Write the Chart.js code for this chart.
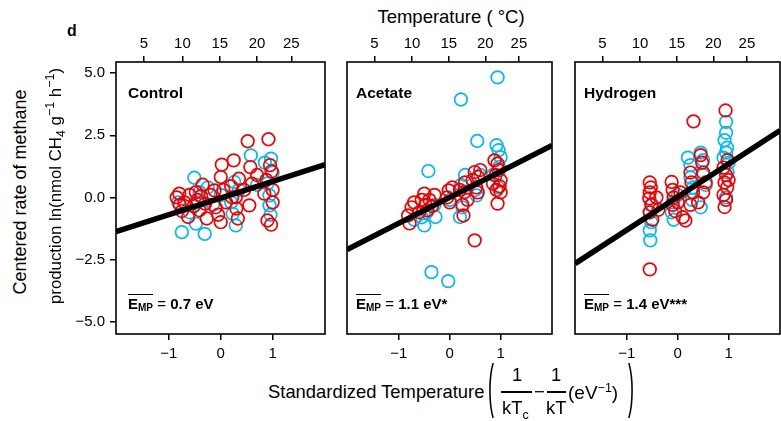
<!DOCTYPE html>
<html><head><meta charset="utf-8">
<script src="https://cdn.jsdelivr.net/npm/chart.js@4"></script>
<style>
body{margin:0;width:781px;height:421px;overflow:hidden;background:#fff;position:relative;font-family:"Liberation Sans",Arial,sans-serif;color:#000}
canvas{position:absolute}
.t{position:absolute;white-space:nowrap;line-height:1}
.b{font-weight:bold}
.rot{transform:translate(-50%,-50%) rotate(-90deg)}
.ov{border-top:1.5px solid #000;font-weight:bold}
.sb{font-size:10px;position:relative;top:2px}
sub,sup{font-size:12.5px;line-height:0}
.bar{position:absolute;height:1.5px;background:#000}
</style></head><body>
<canvas id="c1" width="277" height="334" style="left:56px;top:30px"></canvas>
<canvas id="c2" width="221" height="334" style="left:339px;top:30px"></canvas>
<canvas id="c3" width="221" height="334" style="left:567px;top:30px"></canvas>

<div class="t b" style="left:67px;top:23px;font-size:16px">d</div>
<div class="t" style="left:451px;top:8px;font-size:18.5px;transform:translateX(-50%)">Temperature ( °C)</div>
<div class="t rot" style="left:20px;top:192px;font-size:18px">Centered rate of methane</div>
<div class="t rot" style="left:56px;top:186px;font-size:16.8px">production ln(nmol CH<sub>4</sub> g<sup>−1</sup> h<sup>−1</sup>)</div>

<div class="t b" style="left:128px;top:85px;font-size:15.5px">Control</div>
<div class="t b" style="left:356px;top:85px;font-size:15.5px">Acetate</div>
<div class="t b" style="left:584px;top:85px;font-size:15.5px">Hydrogen</div>

<div class="t" style="left:128px;top:296px;font-size:15px"><span class="ov">E<span class="sb">MP</span></span> = <b>0.7 eV</b></div>
<div class="t" style="left:356px;top:296px;font-size:15px"><span class="ov">E<span class="sb">MP</span></span> = <b>1.1 eV*</b></div>
<div class="t" style="left:584px;top:296px;font-size:15px"><span class="ov">E<span class="sb">MP</span></span> = <b>1.4 eV***</b></div>

<div class="t" style="left:268px;top:383px;font-size:18.4px">Standardized Temperature</div>
<div class="t" style="left:488px;top:356px;font-size:18px;transform-origin:0 0;transform:scale(1,3.3)">(</div>
<div class="t" style="left:512px;top:366px;font-size:18.4px">1</div>
<div class="bar" style="left:501px;top:391px;width:31px"></div>
<div class="t" style="left:502px;top:399px;font-size:18.4px">kT<sub>c</sub></div>
<div class="t" style="left:534px;top:383px;font-size:18.4px">−</div>
<div class="t" style="left:551px;top:366px;font-size:18.4px">1</div>
<div class="bar" style="left:547px;top:391px;width:19px"></div>
<div class="t" style="left:546px;top:399px;font-size:18.4px">kT</div>
<div class="t" style="left:568px;top:383px;font-size:19px">(eV<sup>−1</sup>)</div>
<div class="t" style="left:628px;top:356px;font-size:18px;transform-origin:0 0;transform:scale(1,3.3)">)</div>

<script>
// ---- data ----
const panelNames = ['Control', 'Acetate', 'Hydrogen'];
const tempTickLabels = ['5', '10', '15', '20', '25'];
const tempTickPos = [-1.48, -0.74, -0.02, 0.70, 1.36];
const stdTicks = [-1, 0, 1];
const yTicks = [-5, -2.5, 0, 2.5, 5];
const slopes = [0.67, 1.04, 1.33];
const intercepts = [-0.03, 0.0, 0.02];

const controlRed = [[-0.85,0.0],[-0.8,0.15],[-0.79,-0.3],[-0.75,-0.55],[-0.7,-0.2],[-0.63,-0.79],[-0.6,0.1],[-0.52,-0.35],[-0.48,0.21],[-0.45,-0.1],[-0.41,-0.52],[-0.38,0.05],[-0.35,0.51],[-0.3,-0.25],[-0.27,-0.85],[-0.2,0.1],[-0.12,0.28],[-0.1,-0.4],[-0.05,-0.7],[0.0,-1.0],[0.0,0.82],[0.02,1.32],[0.05,0.3],[0.1,-0.2],[0.2,0.45],[0.22,0.0],[0.25,1.49],[0.29,0.01],[0.3,-0.45],[0.33,-0.85],[0.35,0.75],[0.45,0.3],[0.52,2.26],[0.55,-0.32],[0.57,1.22],[0.6,0.55],[0.7,0.9],[0.84,0.15],[0.88,0.7],[0.9,-0.93],[0.92,2.34],[0.95,1.3],[0.97,-1.1],[0.98,1.05],[1.0,0.3],[1.0,-0.2]];
const controlCyan = [[-0.82,-0.2],[-0.75,-1.4],[-0.6,-0.6],[-0.51,0.79],[-0.48,-1.06],[-0.45,-0.2],[-0.41,0.21],[-0.31,-1.47],[-0.25,0.4],[-0.15,-0.3],[0.0,0.1],[0.2,-0.2],[0.23,-0.66],[0.26,0.62],[0.29,-1.13],[0.35,0.3],[0.58,1.69],[0.7,0.5],[0.85,1.4],[0.94,0.08],[0.94,-0.32],[0.9,0.56],[0.97,1.56],[1.0,1.0],[0.96,-0.7]];

const acetateRed = [[-0.82,-0.73],[-0.79,-1.05],[-0.75,-0.4],[-0.7,-0.2],[-0.6,-0.6],[-0.55,-0.1],[-0.5,0.15],[-0.48,-0.3],[-0.44,-0.52],[-0.4,-0.1],[-0.35,-0.35],[-0.3,0.1],[-0.05,0.0],[-0.02,0.28],[0.0,-0.2],[0.05,0.4],[0.2,0.3],[0.25,-0.3],[0.27,-0.73],[0.29,0.21],[0.3,0.6],[0.35,-0.1],[0.45,0.7],[0.49,1.02],[0.49,-1.73],[0.52,0.4],[0.56,0.82],[0.6,1.1],[0.55,0.2],[0.85,0.55],[0.88,1.49],[0.9,0.9],[0.92,0.3],[0.94,1.36],[0.94,-0.25],[0.96,1.1],[1.0,0.69],[1.0,0.2],[0.98,0.45]];
const acetateCyan = [[-0.7,-0.9],[-0.55,-0.8],[-0.5,-1.13],[-0.45,-0.6],[-0.42,1.06],[-0.36,-3.01],[-0.3,-0.3],[-0.28,-0.79],[-0.03,-3.37],[0.0,-0.1],[0.2,-0.79],[0.22,3.94],[0.22,0.5],[0.25,-0.4],[0.3,0.9],[0.5,0.3],[0.53,0.08],[0.54,2.27],[0.6,0.9],[0.85,0.9],[0.92,2.1],[0.94,4.83],[0.96,1.9],[0.97,1.22],[1.0,1.62],[0.95,0.4]];

const hydrogenRed = [[-0.55,0.6],[-0.53,0.4],[-0.55,0.2],[-0.56,-0.04],[-0.52,-0.3],[-0.55,-0.6],[-0.5,-0.9],[-0.55,-2.9],[-0.42,0.0],[-0.38,-0.5],[-0.12,0.62],[-0.1,0.3],[-0.08,0.0],[-0.1,-0.3],[-0.05,-0.55],[0.05,0.2],[0.1,-0.8],[0.15,-0.93],[0.0,-0.2],[0.25,1.0],[0.27,0.6],[0.3,0.2],[0.31,3.06],[0.25,-0.3],[0.45,1.7],[0.48,1.4],[0.5,1.0],[0.55,0.6],[0.5,0.2],[0.4,-0.2],[0.94,3.5],[0.9,1.2],[0.95,0.9],[0.92,0.6],[0.97,0.4],[0.9,0.1],[0.95,-0.1],[0.92,-0.39],[1.0,0.7],[0.98,1.5]];
const hydrogenCyan = [[-0.55,-0.6],[-0.52,-1.0],[-0.55,-1.33],[-0.54,-1.73],[-0.5,-0.3],[-0.1,-0.2],[-0.12,-0.6],[-0.08,-0.9],[0.0,0.1],[0.25,1.3],[0.25,0.8],[0.3,0.4],[0.28,-0.1],[0.45,1.8],[0.5,1.5],[0.5,0.9],[0.55,0.5],[0.45,-0.4],[0.2,1.6],[0.95,3.04],[0.95,2.6],[0.92,2.3],[0.97,2.0],[0.95,1.8],[0.9,1.6],[1.0,1.4],[0.98,1.0],[0.95,0.0]];

// ---- drawing ----
const RED = 'rgb(240,0,0)';
const CYAN = 'rgb(0,185,240)';
const X_MIN = -2.02, X_MAX = 2.01, Y_MIN = -5.5, Y_MAX = 5.45;
Chart.defaults.font.family = "'Liberation Sans', Arial, sans-serif";
Chart.defaults.font.size = 15;
Chart.defaults.color = '#000';

const frame = {
  id: 'frame',
  afterDraw(chart) {
    const a = chart.chartArea, ctx = chart.ctx;
    ctx.save();
    ctx.strokeStyle = '#000';
    ctx.lineWidth = 1.6;
    ctx.strokeRect(a.left, a.top, a.right - a.left, a.bottom - a.top);
    ctx.restore();
  }
};
const minus = v => (v < 0 ? '\u2212' : '') + Math.abs(v);
const gridCfg = {drawOnChartArea: false, drawTicks: true, tickLength: 6, color: '#000', lineWidth: 1.5};

function makeChart(id, red, cyan, slope, icpt, showY, padL) {
  const pts = arr => arr.map(([x, y]) => ({x, y}));
  new Chart(document.getElementById(id), {
    type: 'scatter',
    data: {datasets: [
      {type: 'line', data: [{x: X_MIN, y: icpt + slope * X_MIN}, {x: X_MAX, y: icpt + slope * X_MAX}],
       borderColor: '#000', borderWidth: 5.5, pointRadius: 0, borderCapStyle: 'butt', order: 0},
      {data: pts(red), borderColor: RED, backgroundColor: 'rgba(0,0,0,0)', pointRadius: 6.3, borderWidth: 1.7, order: 1},
      {data: pts(cyan), borderColor: CYAN, backgroundColor: 'rgba(0,0,0,0)', pointRadius: 6.3, borderWidth: 1.7, order: 2}
    ]},
    options: {
      responsive: false, animation: false, devicePixelRatio: 1,
      layout: {padding: {left: padL, right: 4, top: 0, bottom: 0}},
      plugins: {legend: {display: false}, tooltip: {enabled: false}},
      scales: {
        x: {type: 'linear', position: 'bottom', min: X_MIN, max: X_MAX,
            afterBuildTicks: s => { s.ticks = stdTicks.map(v => ({value: v})); },
            ticks: {callback: v => minus(v), padding: 5, maxRotation: 0},
            grid: gridCfg, border: {display: false},
            afterFit: s => { s.height = 30; }},
        xt: {type: 'linear', position: 'top', min: X_MIN, max: X_MAX,
            afterBuildTicks: s => { s.ticks = tempTickPos.map(v => ({value: v})); },
            ticks: {callback: (v, i) => tempTickLabels[i], padding: 3, maxRotation: 0},
            grid: gridCfg, border: {display: false},
            afterFit: s => { s.height = 32; }},
        y: {type: 'linear', min: Y_MIN, max: Y_MAX, display: showY,
            afterBuildTicks: s => { s.ticks = yTicks.map(v => ({value: v})); },
            ticks: {callback: v => (v < 0 ? '\u2212' : '') + Math.abs(v).toFixed(1), padding: 5},
            grid: gridCfg, border: {display: false},
            afterFit: s => { s.width = showY ? 60 : 0; }}
      }
    },
    plugins: [frame]
  });
}
makeChart('c1', controlRed, controlCyan, slopes[0], intercepts[0], true, 0);
makeChart('c2', acetateRed, acetateCyan, slopes[1], intercepts[1], false, 4);
makeChart('c3', hydrogenRed, hydrogenCyan, slopes[2], intercepts[2], false, 4);
</script>
</body></html>
